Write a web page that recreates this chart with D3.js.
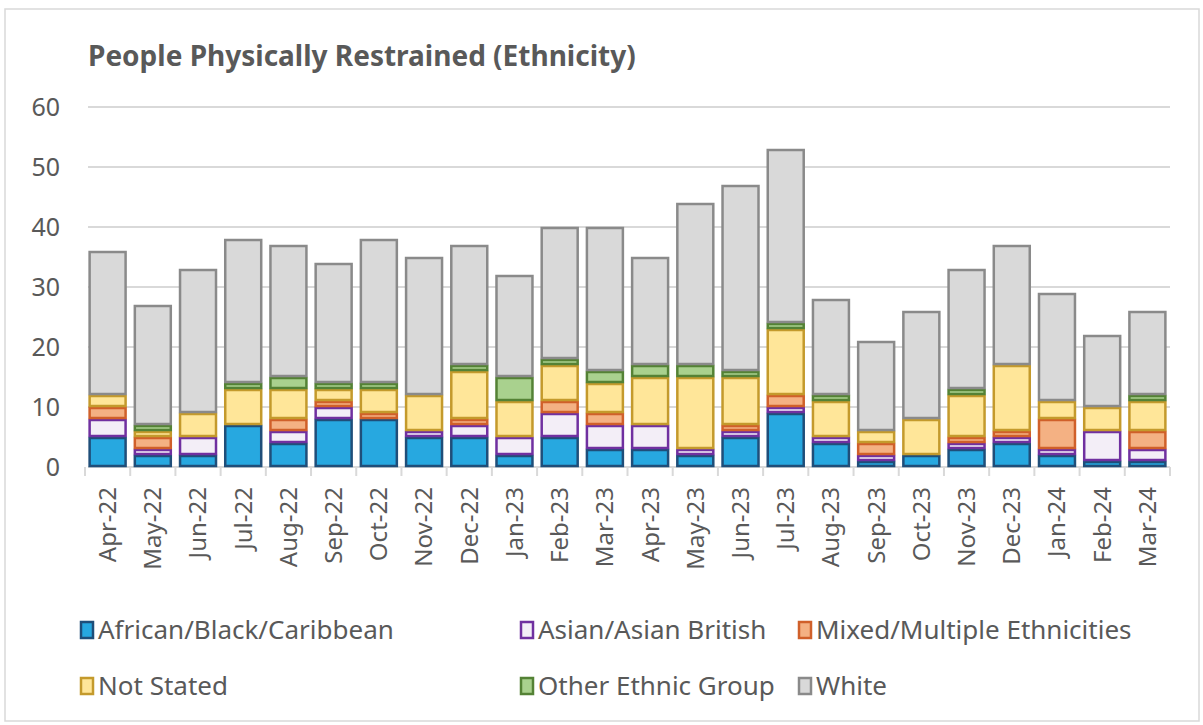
<!DOCTYPE html>
<html>
<head>
<meta charset="utf-8">
<script src="https://cdn.jsdelivr.net/npm/d3@7"></script>
<style>
  body { margin: 0; background: #fff; }
  svg text { font-family: "Noto Sans", "Open Sans", sans-serif; fill: #595959; }
</style>
</head>
<body>
<div id="chart"></div>
<script>
// Months and counts per ethnicity
const months = ["Apr-22","May-22","Jun-22","Jul-22","Aug-22","Sep-22","Oct-22","Nov-22","Dec-22","Jan-23","Feb-23","Mar-23",
                "Apr-23","May-23","Jun-23","Jul-23","Aug-23","Sep-23","Oct-23","Nov-23","Dec-23","Jan-24","Feb-24","Mar-24"];
const african  = [5,2,2,7,4,8,8,5,5,2,5,3, 3,2,5,9,4,1,2,3,4,2,1,1];
const asian    = [3,1,3,0,2,2,0,1,2,3,4,4, 4,1,1,1,1,1,0,1,1,1,5,2];
const mixed    = [2,2,0,0,2,1,1,0,1,0,2,2, 0,0,1,2,0,2,0,1,1,5,0,3];
const notStated= [2,1,4,6,5,2,4,6,8,6,6,5, 8,12,8,11,6,2,6,7,11,3,4,5];
const other    = [0,1,0,1,2,1,1,0,1,4,1,2, 2,2,1,1,1,0,0,1,0,0,0,1];
const white    = [24,20,24,24,22,20,24,23,20,17,22,24, 18,27,31,29,16,15,18,20,20,18,12,14];
const yTicks = [0,10,20,30,40,50,60];

const series = [
  { name: "African/Black/Caribbean", values: african, fill: "#27a8e0", stroke: "#1f4e79" },
  { name: "Asian/Asian British", values: asian, fill: "#f3eef7", stroke: "#7030a0" },
  { name: "Mixed/Multiple Ethnicities", values: mixed, fill: "#f4b183", stroke: "#d0602a" },
  { name: "Not Stated", values: notStated, fill: "#ffe699", stroke: "#c49a2c" },
  { name: "Other Ethnic Group", values: other, fill: "#a9d18e", stroke: "#548235" },
  { name: "White", values: white, fill: "#d9d9d9", stroke: "#8a8a8a" }
];

const W = 1203, H = 725;
const margin = { top: 107, right: 33, bottom: 258, left: 85 };
const width = W - margin.left - margin.right;
const height = H - margin.top - margin.bottom;

const svg = d3.select("#chart").append("svg")
  .attr("width", W).attr("height", H);

// outer frame
svg.append("rect")
  .attr("x", 5).attr("y", 9).attr("width", 1194).attr("height", 712)
  .attr("fill", "none").attr("stroke", "#d9d9d9").attr("stroke-width", 1.5);

svg.append("text")
  .attr("x", 88).attr("y", 66)
  .attr("font-size", 28).attr("font-weight", "bold")
  .text("People Physically Restrained (Ethnicity)");

const g = svg.append("g").attr("transform", `translate(${margin.left},${margin.top})`);

const x = d3.scaleBand().domain(months).range([0, width]).paddingInner(0.16).paddingOuter(0.08);
const y = d3.scaleLinear().domain([0, 60]).range([height, 0]);

// grid
g.selectAll(".grid").data(yTicks).enter().append("line")
  .attr("x1", 3).attr("x2", width)
  .attr("y1", d => y(d)).attr("y2", d => y(d))
  .attr("stroke", "#d9d9d9").attr("stroke-width", 2);

// y labels
g.selectAll(".ylab").data(yTicks).enter().append("text")
  .attr("x", -25).attr("y", d => y(d)).attr("dy", "0.36em")
  .attr("text-anchor", "end").attr("font-size", 25)
  .text(d => d);

// stacked data
const table = months.map((m, i) => {
  const row = { month: m };
  series.forEach(s => row[s.name] = s.values[i]);
  return row;
});
const stack = d3.stack().keys(series.map(s => s.name))(table);

stack.forEach((layer, li) => {
  const s = series[li];
  g.append("g").selectAll("rect").data(layer.filter(d => d[1] - d[0] > 0)).enter().append("rect")
    .attr("x", d => x(d.data.month) + 1)
    .attr("width", x.bandwidth() - 2)
    .attr("y", d => y(d[1]) + 1)
    .attr("height", d => Math.max(0, y(d[0]) - y(d[1]) - 2))
    .attr("fill", s.fill).attr("stroke", s.stroke).attr("stroke-width", 2.5);
});

// x tick marks and labels
g.selectAll(".xtick").data(months.concat(["_end"])).enter().append("line")
  .attr("x1", (d, i) => i * x.step() - x.step() * x.paddingInner() / 2 + x.step() * x.paddingOuter())
  .attr("x2", (d, i) => i * x.step() - x.step() * x.paddingInner() / 2 + x.step() * x.paddingOuter())
  .attr("y1", height).attr("y2", height + 9)
  .attr("stroke", "#d9d9d9").attr("stroke-width", 2);

g.selectAll(".xlab").data(months).enter().append("text")
  .attr("transform", d => `translate(${x(d) + x.bandwidth() / 2},${height + 20}) rotate(-90)`)
  .attr("dy", "0.35em").attr("text-anchor", "end").attr("font-size", 24)
  .text(d => d);

// legend
const legendPos = [[80, 630], [520, 630], [798, 630], [80, 686], [520, 686], [798, 686]];
series.forEach((s, i) => {
  const [lx, ly] = legendPos[i];
  svg.append("rect")
    .attr("x", lx + 1).attr("y", ly - 8).attr("width", 12).attr("height", 16)
    .attr("fill", s.fill).attr("stroke", s.stroke).attr("stroke-width", 2.5);
  svg.append("text")
    .attr("x", lx + 18).attr("y", ly).attr("dy", "0.35em")
    .attr("font-size", 26)
    .text(s.name);
});
</script>
</body>
</html>
